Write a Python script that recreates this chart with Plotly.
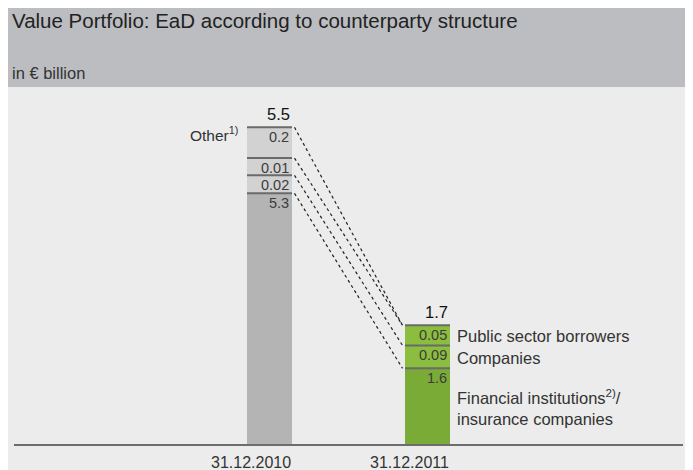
import plotly.graph_objects as go

# ---- data ----
dates = ["31.12.2010", "31.12.2011"]
segment_names = ["Financial institutions<sup>2)</sup>/<br>insurance companies",
                 "Companies", "Public sector borrowers", "Other<sup>1)</sup>"]
financial = [5.3, 1.6]
companies = [0.02, 0.09]
public_sector = [0.01, 0.05]
other = [0.2, 0.0]
totals = [5.5, 1.7]

# ---- styles ----
OFF = 8                      # page body margin of the html page
W, H = 693 - OFF, 470 - OFF
FONT = "Liberation Sans, Arial, sans-serif"
TXT = "#333333"
dark_cols = ["#b4b4b5", "#7aab36"]
light_cols = ["#d2d2d3", "#8bbd3e"]
series = [financial, companies, public_sector, other]
series_cols = [dark_cols, light_cols, light_cols, light_cols]


def shown(v):
    # stylised (non-proportional) height so that small segments stay readable
    if v == 0:
        return 0.0
    return v if v >= 1 else 0.35 + 1.5 * v


def px(x):
    return (x - OFF) / W


def py(y):
    return 1 - (y - OFF) / H


# pixel geometry of the plot area (reference window pixels)
ax_left, ax_right = 14, 683
ax_bottom, ax_top = 444, 100
px_per_unit = 47.3
x_range = [-1.617, 2.617]
px_per_x = (ax_right - ax_left) / (x_range[1] - x_range[0])
bw = 45 / px_per_x
gap = 2.5 / px_per_x

xs = list(range(len(dates)))

fig = go.Figure()

# stacked bars
cum = [[0.0] * len(dates)]
for s, cols in zip(series, series_cols):
    h = [shown(v) for v in s]
    fig.add_trace(go.Bar(x=xs, y=h, base=cum[-1], width=bw,
                         marker=dict(color=cols, line=dict(width=0)),
                         hoverinfo="skip"))
    cum.append([b + hh for b, hh in zip(cum[-1], h)])

# separator lines at each segment top
sx, sy = [], []
for k, s in enumerate(series):
    for i in xs:
        if s[i] > 0:
            sx += [i - bw / 2, i + bw / 2, None]
            sy += [cum[k + 1][i], cum[k + 1][i], None]
fig.add_trace(go.Scatter(x=sx, y=sy, mode="lines",
                         line=dict(color="#6a6a6a", width=2), hoverinfo="skip"))

# dashed connectors between the two bars
dx, dy = [], []
for k in range(len(series)):
    dx += [0 + bw / 2 + gap, 1 - bw / 2 - gap, None]
    dy += [cum[k + 1][0], cum[k + 1][1], None]
fig.add_trace(go.Scatter(x=dx, y=dy, mode="lines",
                         line=dict(color="#222222", width=1.2, dash="3px,3px"),
                         hoverinfo="skip"))

ann = []
# value labels
for k, s in enumerate(series):
    for i in xs:
        if s[i] > 0:
            ann.append(dict(x=i + bw / 2, y=cum[k + 1][i], xref="x", yref="y",
                            text=str(s[i]), showarrow=False, xanchor="right",
                            yanchor="top", xshift=-1, yshift=0,
                            font=dict(size=14.5, color="#3c3c3c", family=FONT)))
# totals
for i in xs:
    ann.append(dict(x=i + bw / 2, y=cum[-1][i], xref="x", yref="y",
                    text=str(totals[i]), showarrow=False, xanchor="right",
                    yanchor="bottom", yshift=2,
                    font=dict(size=16.5, color="#111111", family=FONT)))
# "Other" label left of first bar
ann.append(dict(x=0 - bw / 2, y=cum[4][0], xref="x", yref="y",
                text=segment_names[3], showarrow=False, xanchor="right",
                yanchor="top", xshift=-7, yshift=5,
                font=dict(size=15.5, color=TXT, family=FONT)))
# category labels right of second bar
for k in range(3):
    ann.append(dict(x=1 + bw / 2, y=(cum[k][1] + cum[k + 1][1]) / 2,
                    xref="x", yref="y", text=segment_names[k], showarrow=False,
                    xanchor="left", yanchor="middle", align="left", xshift=5,
                    yshift=-1,
                    font=dict(size=16.5, color=TXT, family=FONT)))
# date labels (right aligned to bars)
for i in xs:
    ann.append(dict(x=i + bw / 2, y=py(452), xref="x", yref="paper",
                    text=dates[i], showarrow=False, xanchor="right",
                    yanchor="top", xshift=1,
                    font=dict(size=16, color=TXT, family=FONT)))
# title & subtitle
ann.append(dict(x=px(10), y=py(21), xref="paper", yref="paper",
                text="Value Portfolio: EaD according to counterparty structure",
                showarrow=False, xanchor="left", yanchor="middle",
                font=dict(size=20.5, color="#222222", family=FONT)))
ann.append(dict(x=px(10), y=py(73), xref="paper", yref="paper",
                text="in € billion", showarrow=False, xanchor="left",
                yanchor="middle", font=dict(size=16.5, color=TXT, family=FONT)))

shapes = [
    dict(type="rect", xref="paper", yref="paper", x0=0, x1=px(690),
         y0=0, y1=1, fillcolor="#ebeceb", line=dict(width=0), layer="below"),
    dict(type="rect", xref="paper", yref="paper", x0=0, x1=px(690),
         y0=py(87), y1=1, fillcolor="#bcbdc0", line=dict(width=0),
         layer="below"),
]

fig.update_layout(
    width=W, height=H, margin=dict(l=0, r=0, t=0, b=0),
    paper_bgcolor="#ffffff", plot_bgcolor="rgba(0,0,0,0)",
    barmode="overlay", showlegend=False, hovermode=False,
    annotations=ann, shapes=shapes,
    xaxis=dict(domain=[px(ax_left), px(ax_right)], range=x_range,
               showticklabels=False, showgrid=False,
               zeroline=False, showline=True, linecolor="#6d6d6d", linewidth=2,
               ticks="", fixedrange=True),
    yaxis=dict(domain=[py(ax_bottom), py(ax_top)],
               range=[0, (ax_bottom - ax_top) / px_per_unit],
               showgrid=False, zeroline=False, showticklabels=False,
               showline=False, ticks="", fixedrange=True),
)

fig.write_html("out.html")
